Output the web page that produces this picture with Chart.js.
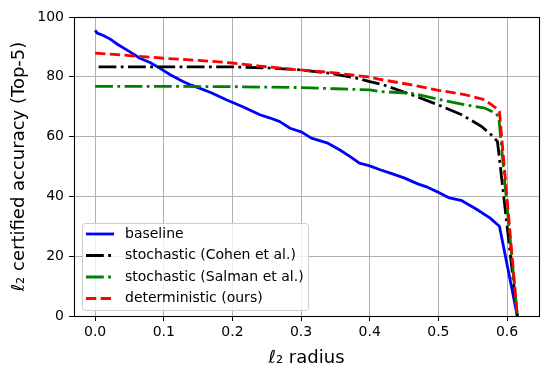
<!DOCTYPE html>
<html>
<head>
<meta charset="utf-8">
<script src="https://cdn.jsdelivr.net/npm/chart.js@4/dist/chart.umd.min.js"></script>
<style>
  html, body { margin: 0; padding: 0; background: #fff; }
  #wrap { width: 548px; height: 377px; }
</style>
</head>
<body>
<div id="wrap"><canvas id="chart" width="548" height="377"></canvas></div>
<script>
// Data
const baselineX = [0, 0.003, 0.012, 0.022, 0.033, 0.046, 0.056, 0.065, 0.08, 0.094, 0.11, 0.128, 0.14, 0.152, 0.17, 0.191, 0.215, 0.24, 0.255, 0.269, 0.284, 0.301, 0.315, 0.339, 0.356, 0.371, 0.385, 0.4, 0.415, 0.43, 0.45, 0.47, 0.485, 0.502, 0.516, 0.533, 0.555, 0.575, 0.589, 0.615];
const baselineY = [95.5, 94.6, 93.8, 92.6, 90.8, 89.0, 87.6, 86.2, 84.8, 82.9, 80.6, 78.4, 77.2, 76.2, 74.6, 72.3, 70.0, 67.3, 66.2, 65.0, 62.8, 61.5, 59.5, 57.8, 55.6, 53.4, 51.1, 50.2, 48.9, 47.8, 46.2, 44.2, 43.0, 41.1, 39.5, 38.7, 35.8, 32.8, 30.0, 0];

const cohenX = [0.005, 0.1, 0.2, 0.25, 0.3, 0.342, 0.38, 0.4, 0.42, 0.461, 0.5, 0.534, 0.563, 0.577, 0.586, 0.588, 0.615];
const cohenY = [83.3, 83.3, 83.3, 83.0, 82.3, 81.2, 79.6, 78.4, 77.3, 74.0, 70.6, 67.3, 63.4, 60.6, 58.4, 54.6, 0];

const salmanX = [0, 0.1, 0.2, 0.298, 0.35, 0.4, 0.413, 0.461, 0.5, 0.539, 0.568, 0.584, 0.588, 0.615];
const salmanY = [76.8, 76.8, 76.7, 76.4, 76.0, 75.6, 75.1, 74.5, 72.5, 70.6, 69.5, 67.8, 66.5, 0];

const oursX = [0, 0.05, 0.1, 0.15, 0.196, 0.239, 0.298, 0.342, 0.4, 0.413, 0.461, 0.497, 0.539, 0.568, 0.584, 0.589, 0.615];
const oursY = [87.9, 87.1, 86.2, 85.5, 84.7, 83.6, 82.3, 81.5, 79.9, 79.2, 77.3, 75.6, 74.0, 72.3, 69.5, 68.4, 0];

const seriesLabels = ['baseline', 'stochastic (Cohen et al.)', 'stochastic (Salman et al.)', 'deterministic (ours)'];
const xTicks = [0, 0.1, 0.2, 0.3, 0.4, 0.5, 0.6];
const yTicks = [0, 20, 40, 60, 80, 100];

const FONT = 'DejaVu Sans';
const LW = 2.8;
const DASHED = [10.3, 4.4];
const DASHDOT = [17.8, 4.4, 2.8, 4.4];

function points(xs, ys) {
    return xs.map((x, i) => ({ x: x, y: ys[i] }));
}

function lineSet(label, xs, ys, color, dash, order) {
    return {
        label: label,
        data: points(xs, ys),
        borderColor: color,
        backgroundColor: color,
        borderWidth: LW,
        borderDash: dash,
        borderCapStyle: 'butt',
        borderJoinStyle: 'round',
        pointRadius: 0,
        fill: false,
        tension: 0,
        clip: 0,
        order: order
    };
}

// Box around the axes, drawn above the lines like matplotlib spines
const framePlugin = {
    id: 'frame',
    afterDatasetsDraw(chart) {
        const a = chart.chartArea;
        const ctx = chart.ctx;
        ctx.save();
        ctx.strokeStyle = '#000';
        ctx.lineWidth = 1.1;
        ctx.strokeRect(Math.round(a.left) + 0.5, Math.round(a.top) + 0.5,
            Math.round(a.right) - Math.round(a.left), Math.round(a.bottom) - Math.round(a.top));
        ctx.restore();
    }
};

// Legend inside the axes, lower left
const legendPlugin = {
    id: 'innerLegend',
    afterDraw(chart) {
        const ctx = chart.ctx;
        const box = { x: 82, y: 223, w: 226, h: 87, r: 3 };
        ctx.save();
        ctx.beginPath();
        ctx.roundRect(box.x + 0.5, box.y + 0.5, box.w, box.h, box.r);
        ctx.fillStyle = 'rgba(255,255,255,0.8)';
        ctx.fill();
        ctx.strokeStyle = '#cccccc';
        ctx.lineWidth = 1;
        ctx.stroke();

        const firstRow = 234;
        const rowStep = 21.5;
        ctx.font = '14px "' + FONT + '"';
        ctx.textBaseline = 'middle';
        ctx.textAlign = 'left';
        chart.data.datasets.forEach((ds, i) => {
            const y = firstRow + i * rowStep;
            ctx.beginPath();
            ctx.setLineDash(ds.borderDash || []);
            ctx.lineDashOffset = 0;
            ctx.strokeStyle = ds.borderColor;
            ctx.lineWidth = ds.borderWidth;
            ctx.lineCap = 'butt';
            ctx.moveTo(86, y);
            ctx.lineTo(114, y);
            ctx.stroke();
            ctx.setLineDash([]);
            ctx.fillStyle = '#000';
            ctx.fillText(ds.label, 125, y);
        });
        ctx.restore();
    }
};

const ctx = document.getElementById('chart');

new Chart(ctx, {
    type: 'line',
    data: {
        datasets: [
            lineSet(seriesLabels[0], baselineX, baselineY, '#0000ff', [], 3),
            lineSet(seriesLabels[1], cohenX, cohenY, '#000000', DASHDOT, 2),
            lineSet(seriesLabels[2], salmanX, salmanY, '#008000', DASHDOT, 1),
            lineSet(seriesLabels[3], oursX, oursY, '#ff0000', DASHED, 0)
        ]
    },
    options: {
        responsive: false,
        devicePixelRatio: 1,
        animation: false,
        events: [],
        layout: { padding: { top: 17, right: 9, left: 0, bottom: 0 } },
        plugins: {
            legend: { display: false },
            tooltip: { enabled: false }
        },
        scales: {
            x: {
                type: 'linear',
                min: -0.0308,
                max: 0.6466,
                afterBuildTicks: s => { s.ticks = xTicks.map(v => ({ value: v })); },
                afterFit: s => { s.height = 61; },
                border: { display: false },
                grid: { color: '#b0b0b0', lineWidth: 1, tickColor: '#000', tickLength: 5, tickWidth: 1 },
                ticks: {
                    color: '#000',
                    font: { family: FONT, size: 14 },
                    padding: 3,
                    maxRotation: 0,
                    autoSkip: false,
                    callback: v => v.toFixed(1)
                },
                title: {
                    display: true,
                    text: 'ℓ₂ radius',
                    color: '#000',
                    font: { family: FONT, size: 18 },
                    padding: { top: 0, bottom: 8 }
                }
            },
            y: {
                min: 0,
                max: 100,
                afterBuildTicks: s => { s.ticks = yTicks.map(v => ({ value: v })); },
                afterFit: s => { s.width = 74; },
                border: { display: false },
                grid: { color: '#b0b0b0', lineWidth: 1, tickColor: '#000', tickLength: 5, tickWidth: 1 },
                ticks: {
                    color: '#000',
                    font: { family: FONT, size: 14 },
                    padding: 5,
                    autoSkip: false,
                    callback: v => String(v)
                },
                title: {
                    display: true,
                    text: 'ℓ₂ certified accuracy (Top-5)',
                    color: '#000',
                    font: { family: FONT, size: 18 },
                    padding: { top: 9, bottom: 0 }
                }
            }
        }
    },
    plugins: [framePlugin, legendPlugin]
});
</script>
</body>
</html>
